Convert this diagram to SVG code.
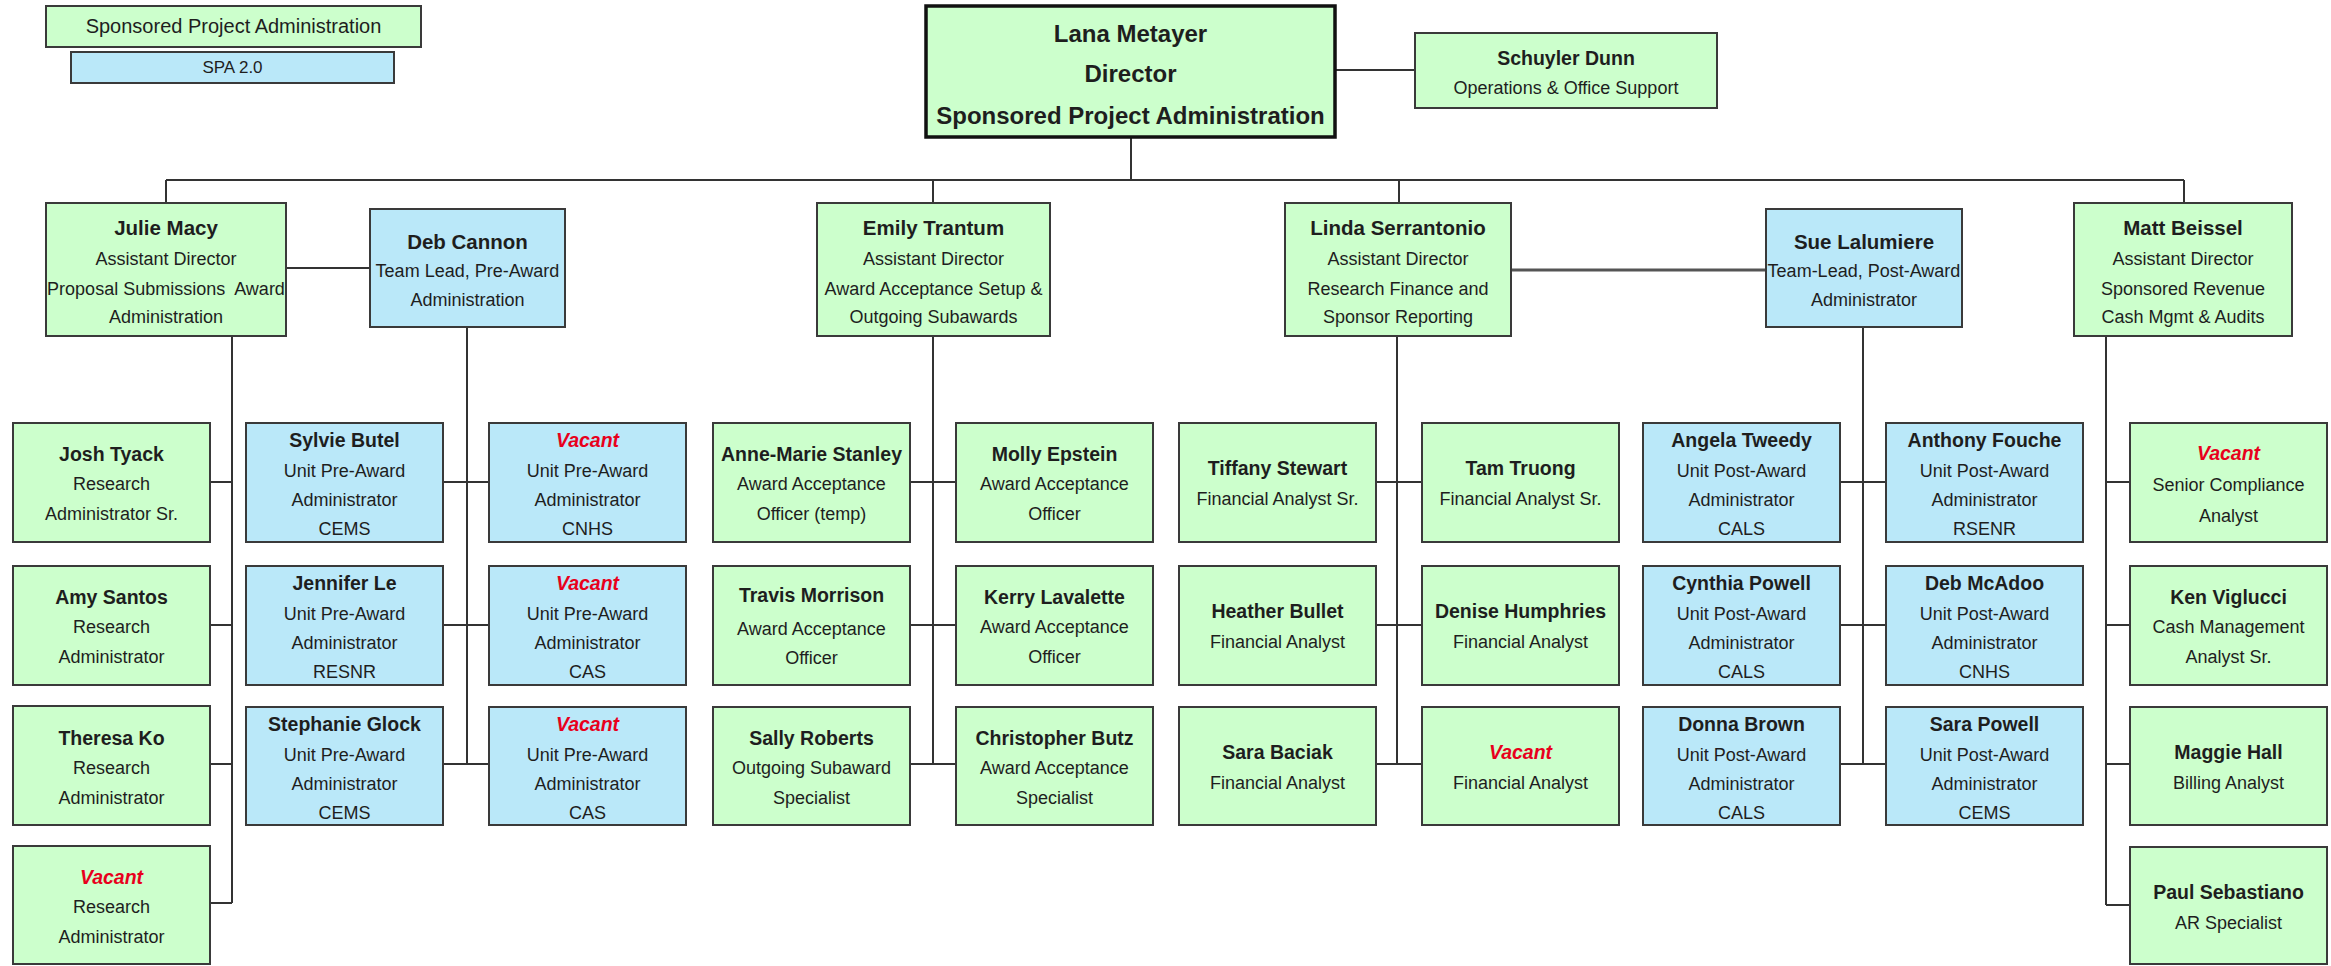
<svg xmlns="http://www.w3.org/2000/svg" width="2331" height="966" viewBox="0 0 2331 966">
<style>
.g{fill:#CCFFCC;stroke:#3a3a3a;stroke-width:2}
.b{fill:#BAE8F9;stroke:#3a3a3a;stroke-width:2}
text{font-family:"Liberation Sans",Arial,sans-serif;text-anchor:middle;fill:#1e1e1e}
.n{font-size:19.5px;font-weight:bold}
.nt{font-size:20.5px;font-weight:bold}
.t{font-size:18px}
.v{font-size:19.5px;font-weight:bold;font-style:italic;fill:#E8001C}
.c{stroke:#333;stroke-width:2;fill:none}
</style>
<g id="connectors">
<path class="c" d="M1335 70H1415M1131 137V180M166 180H2184M166 180V203M933 180V203M1399 180V203M2184 180V203M286 268H370"/>
<path d="M1511 270H1766" stroke="#555" stroke-width="3" fill="none"/>
<path class="c" d="M232 336V903M209 482H232M209 625H232M209 764H232M209 903H232"/>
<path class="c" d="M467 327V764M444 482H489M444 625H489M444 764H489"/>
<path class="c" d="M933 336V764M910 482H956M910 625H956M910 764H956"/>
<path class="c" d="M1397 336V764M1376 482H1422M1376 625H1422M1376 764H1422"/>
<path class="c" d="M1863 327V764M1840 482H1886M1840 625H1886M1840 764H1886"/>
<path class="c" d="M2106 336V905M2106 482H2130M2106 625H2130M2106 764H2130M2106 905H2130"/>
</g>
<g id="legend-spa"><rect class="g" x="46" y="6" width="375" height="41"/><text x="233.5" y="33" style="font-size:20px">Sponsored Project Administration</text></g>
<g id="legend-spa2"><rect class="b" x="71" y="52" width="323" height="31"/><text x="232.5" y="73" style="font-size:17px">SPA 2.0</text></g>
<g id="lana-metayer"><rect x="926" y="6" width="409" height="131" fill="#CCFFCC" stroke="#111" stroke-width="3.5"/>
<text x="1130.5" y="42" style="font-size:24px;font-weight:bold">Lana Metayer</text>
<text x="1130.5" y="82" style="font-size:24px;font-weight:bold">Director</text>
<text x="1130.5" y="124" style="font-size:24px;font-weight:bold">Sponsored Project Administration</text></g>
<g id="schuyler-dunn"><rect class="g" x="1415" y="33" width="302" height="75"/><text class="n" x="1566" y="65">Schuyler Dunn</text><text class="t" x="1566" y="94">Operations &amp; Office Support</text></g>
<g id="julie-macy"><rect class="g" x="46" y="203" width="240" height="133"/><text class="nt" x="166" y="235">Julie Macy</text><text class="t" x="166" y="265">Assistant Director</text><text class="t" x="166" y="295" xml:space="preserve">Proposal Submissions  Award</text><text class="t" x="166" y="323">Administration</text></g>
<g id="deb-cannon"><rect class="b" x="370" y="209" width="195" height="118"/><text class="nt" x="467.5" y="249">Deb Cannon</text><text class="t" x="467.5" y="277">Team Lead, Pre-Award</text><text class="t" x="467.5" y="306">Administration</text></g>
<g id="emily-trantum"><rect class="g" x="817" y="203" width="233" height="133"/><text class="nt" x="933.5" y="235">Emily Trantum</text><text class="t" x="933.5" y="265">Assistant Director</text><text class="t" x="933.5" y="295">Award Acceptance Setup &amp;</text><text class="t" x="933.5" y="323">Outgoing Subawards</text></g>
<g id="linda-serrantonio"><rect class="g" x="1285" y="203" width="226" height="133"/><text class="nt" x="1398" y="235">Linda Serrantonio</text><text class="t" x="1398" y="265">Assistant Director</text><text class="t" x="1398" y="295">Research Finance and</text><text class="t" x="1398" y="323">Sponsor Reporting</text></g>
<g id="sue-lalumiere"><rect class="b" x="1766" y="209" width="196" height="118"/><text class="nt" x="1864" y="249">Sue Lalumiere</text><text class="t" x="1864" y="277">Team-Lead, Post-Award</text><text class="t" x="1864" y="306">Administrator</text></g>
<g id="matt-beissel"><rect class="g" x="2074" y="203" width="218" height="133"/><text class="nt" x="2183" y="235">Matt Beissel</text><text class="t" x="2183" y="265">Assistant Director</text><text class="t" x="2183" y="295">Sponsored Revenue</text><text class="t" x="2183" y="323">Cash Mgmt &amp; Audits</text></g>

<g id="josh-tyack"><rect class="g" x="13" y="423" width="197" height="119"/><text class="n" x="111.5" y="461">Josh Tyack</text><text class="t" x="111.5" y="490">Research</text><text class="t" x="111.5" y="520">Administrator Sr.</text></g>
<g id="amy-santos"><rect class="g" x="13" y="566" width="197" height="119"/><text class="n" x="111.5" y="604">Amy Santos</text><text class="t" x="111.5" y="633">Research</text><text class="t" x="111.5" y="663">Administrator</text></g>
<g id="theresa-ko"><rect class="g" x="13" y="706" width="197" height="119"/><text class="n" x="111.5" y="745">Theresa Ko</text><text class="t" x="111.5" y="774">Research</text><text class="t" x="111.5" y="804">Administrator</text></g>
<g id="vacant-research-admin"><rect class="g" x="13" y="846" width="197" height="118"/><text class="v" x="111.5" y="884">Vacant</text><text class="t" x="111.5" y="913">Research</text><text class="t" x="111.5" y="943">Administrator</text></g>

<g id="sylvie-butel"><rect class="b" x="246" y="423" width="197" height="119"/><text class="n" x="344.5" y="447">Sylvie Butel</text><text class="t" x="344.5" y="477">Unit Pre-Award</text><text class="t" x="344.5" y="506">Administrator</text><text class="t" x="344.5" y="535">CEMS</text></g>
<g id="jennifer-le"><rect class="b" x="246" y="566" width="197" height="119"/><text class="n" x="344.5" y="590">Jennifer Le</text><text class="t" x="344.5" y="620">Unit Pre-Award</text><text class="t" x="344.5" y="649">Administrator</text><text class="t" x="344.5" y="678">RESNR</text></g>
<g id="stephanie-glock"><rect class="b" x="246" y="707" width="197" height="118"/><text class="n" x="344.5" y="731">Stephanie Glock</text><text class="t" x="344.5" y="761">Unit Pre-Award</text><text class="t" x="344.5" y="790">Administrator</text><text class="t" x="344.5" y="819">CEMS</text></g>

<g id="vacant-preaward-cnhs"><rect class="b" x="489" y="423" width="197" height="119"/><text class="v" x="587.5" y="447">Vacant</text><text class="t" x="587.5" y="477">Unit Pre-Award</text><text class="t" x="587.5" y="506">Administrator</text><text class="t" x="587.5" y="535">CNHS</text></g>
<g id="vacant-preaward-cas-1"><rect class="b" x="489" y="566" width="197" height="119"/><text class="v" x="587.5" y="590">Vacant</text><text class="t" x="587.5" y="620">Unit Pre-Award</text><text class="t" x="587.5" y="649">Administrator</text><text class="t" x="587.5" y="678">CAS</text></g>
<g id="vacant-preaward-cas-2"><rect class="b" x="489" y="707" width="197" height="118"/><text class="v" x="587.5" y="731">Vacant</text><text class="t" x="587.5" y="761">Unit Pre-Award</text><text class="t" x="587.5" y="790">Administrator</text><text class="t" x="587.5" y="819">CAS</text></g>

<g id="anne-marie-stanley"><rect class="g" x="713" y="423" width="197" height="119"/><text class="n" x="811.5" y="461">Anne-Marie Stanley</text><text class="t" x="811.5" y="490">Award Acceptance</text><text class="t" x="811.5" y="520">Officer (temp)</text></g>
<g id="travis-morrison"><rect class="g" x="713" y="566" width="197" height="119"/><text class="n" x="811.5" y="602">Travis Morrison</text><text class="t" x="811.5" y="635">Award Acceptance</text><text class="t" x="811.5" y="664">Officer</text></g>
<g id="sally-roberts"><rect class="g" x="713" y="707" width="197" height="118"/><text class="n" x="811.5" y="745">Sally Roberts</text><text class="t" x="811.5" y="774">Outgoing Subaward</text><text class="t" x="811.5" y="804">Specialist</text></g>

<g id="molly-epstein"><rect class="g" x="956" y="423" width="197" height="119"/><text class="n" x="1054.5" y="461">Molly Epstein</text><text class="t" x="1054.5" y="490">Award Acceptance</text><text class="t" x="1054.5" y="520">Officer</text></g>
<g id="kerry-lavalette"><rect class="g" x="956" y="566" width="197" height="119"/><text class="n" x="1054.5" y="604">Kerry Lavalette</text><text class="t" x="1054.5" y="633">Award Acceptance</text><text class="t" x="1054.5" y="663">Officer</text></g>
<g id="christopher-butz"><rect class="g" x="956" y="707" width="197" height="118"/><text class="n" x="1054.5" y="745">Christopher Butz</text><text class="t" x="1054.5" y="774">Award Acceptance</text><text class="t" x="1054.5" y="804">Specialist</text></g>

<g id="tiffany-stewart"><rect class="g" x="1179" y="423" width="197" height="119"/><text class="n" x="1277.5" y="475">Tiffany Stewart</text><text class="t" x="1277.5" y="505">Financial Analyst Sr.</text></g>
<g id="heather-bullet"><rect class="g" x="1179" y="566" width="197" height="119"/><text class="n" x="1277.5" y="618">Heather Bullet</text><text class="t" x="1277.5" y="648">Financial Analyst</text></g>
<g id="sara-baciak"><rect class="g" x="1179" y="707" width="197" height="118"/><text class="n" x="1277.5" y="759">Sara Baciak</text><text class="t" x="1277.5" y="789">Financial Analyst</text></g>

<g id="tam-truong"><rect class="g" x="1422" y="423" width="197" height="119"/><text class="n" x="1520.5" y="475">Tam Truong</text><text class="t" x="1520.5" y="505">Financial Analyst Sr.</text></g>
<g id="denise-humphries"><rect class="g" x="1422" y="566" width="197" height="119"/><text class="n" x="1520.5" y="618">Denise Humphries</text><text class="t" x="1520.5" y="648">Financial Analyst</text></g>
<g id="vacant-financial-analyst"><rect class="g" x="1422" y="707" width="197" height="118"/><text class="v" x="1520.5" y="759">Vacant</text><text class="t" x="1520.5" y="789">Financial Analyst</text></g>

<g id="angela-tweedy"><rect class="b" x="1643" y="423" width="197" height="119"/><text class="n" x="1741.5" y="447">Angela Tweedy</text><text class="t" x="1741.5" y="477">Unit Post-Award</text><text class="t" x="1741.5" y="506">Administrator</text><text class="t" x="1741.5" y="535">CALS</text></g>
<g id="cynthia-powell"><rect class="b" x="1643" y="566" width="197" height="119"/><text class="n" x="1741.5" y="590">Cynthia Powell</text><text class="t" x="1741.5" y="620">Unit Post-Award</text><text class="t" x="1741.5" y="649">Administrator</text><text class="t" x="1741.5" y="678">CALS</text></g>
<g id="donna-brown"><rect class="b" x="1643" y="707" width="197" height="118"/><text class="n" x="1741.5" y="731">Donna Brown</text><text class="t" x="1741.5" y="761">Unit Post-Award</text><text class="t" x="1741.5" y="790">Administrator</text><text class="t" x="1741.5" y="819">CALS</text></g>

<g id="anthony-fouche"><rect class="b" x="1886" y="423" width="197" height="119"/><text class="n" x="1984.5" y="447">Anthony Fouche</text><text class="t" x="1984.5" y="477">Unit Post-Award</text><text class="t" x="1984.5" y="506">Administrator</text><text class="t" x="1984.5" y="535">RSENR</text></g>
<g id="deb-mcadoo"><rect class="b" x="1886" y="566" width="197" height="119"/><text class="n" x="1984.5" y="590">Deb McAdoo</text><text class="t" x="1984.5" y="620">Unit Post-Award</text><text class="t" x="1984.5" y="649">Administrator</text><text class="t" x="1984.5" y="678">CNHS</text></g>
<g id="sara-powell"><rect class="b" x="1886" y="707" width="197" height="118"/><text class="n" x="1984.5" y="731">Sara Powell</text><text class="t" x="1984.5" y="761">Unit Post-Award</text><text class="t" x="1984.5" y="790">Administrator</text><text class="t" x="1984.5" y="819">CEMS</text></g>

<g id="vacant-senior-compliance"><rect class="g" x="2130" y="423" width="197" height="119"/><text class="v" x="2228.5" y="460">Vacant</text><text class="t" x="2228.5" y="491">Senior Compliance</text><text class="t" x="2228.5" y="522">Analyst</text></g>
<g id="ken-viglucci"><rect class="g" x="2130" y="566" width="197" height="119"/><text class="n" x="2228.5" y="604">Ken Viglucci</text><text class="t" x="2228.5" y="633">Cash Management</text><text class="t" x="2228.5" y="663">Analyst Sr.</text></g>
<g id="maggie-hall"><rect class="g" x="2130" y="707" width="197" height="118"/><text class="n" x="2228.5" y="759">Maggie Hall</text><text class="t" x="2228.5" y="789">Billing Analyst</text></g>
<g id="paul-sebastiano"><rect class="g" x="2130" y="847" width="197" height="117"/><text class="n" x="2228.5" y="899">Paul Sebastiano</text><text class="t" x="2228.5" y="929">AR Specialist</text></g>
</svg>
